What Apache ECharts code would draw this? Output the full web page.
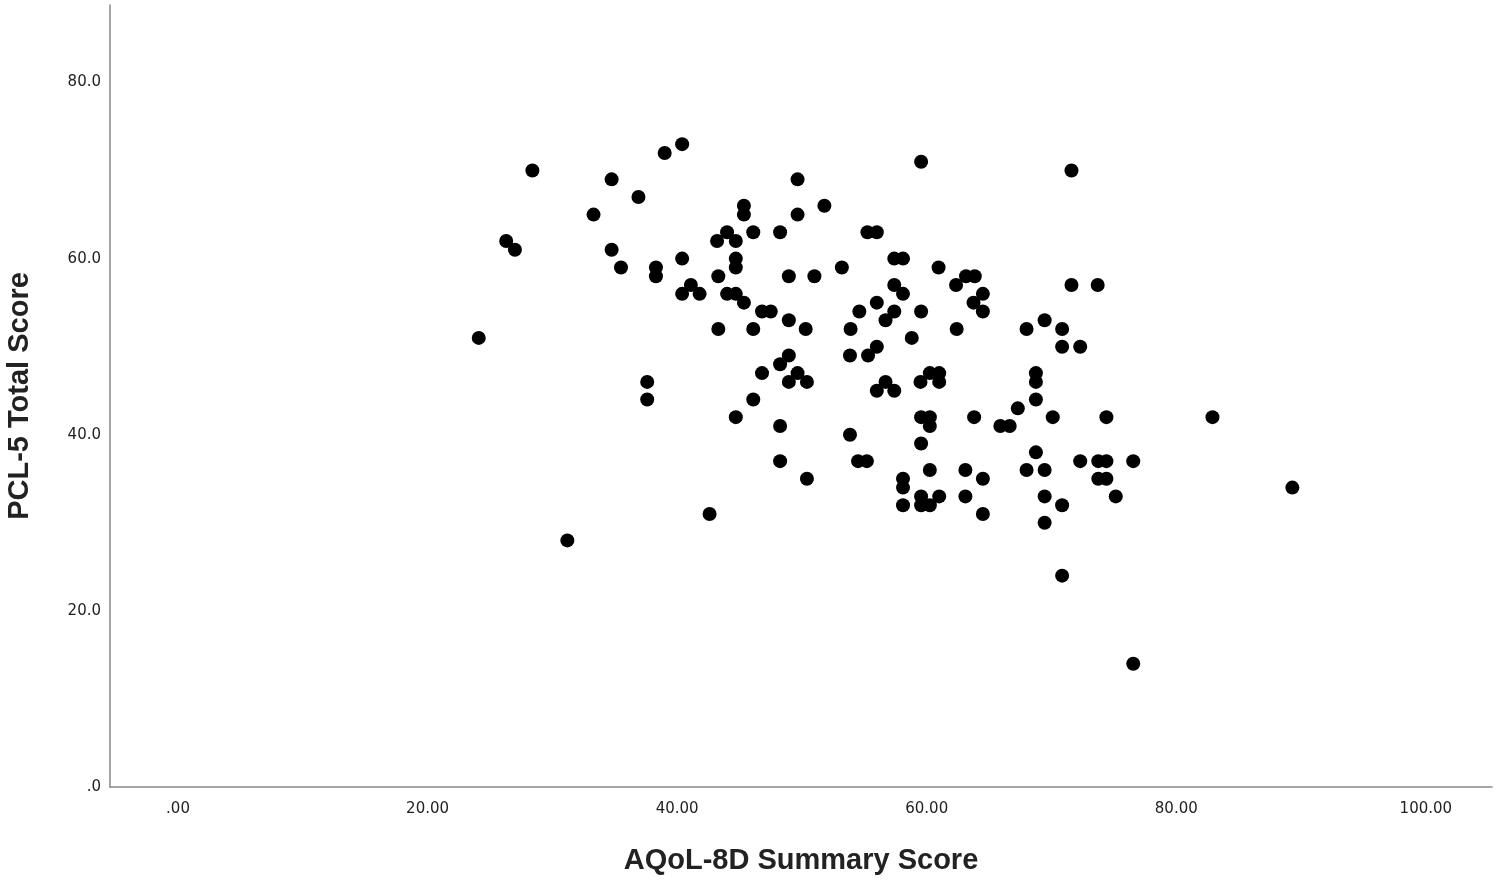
<!DOCTYPE html>
<html>
<head>
<meta charset="utf-8">
<script src="https://cdn.jsdelivr.net/npm/echarts@6/dist/echarts.min.js"></script>
<style>
html, body { margin: 0; padding: 0; background: #fff; }
#chart { width: 1499px; height: 881px; }
</style>
</head>
<body>
<div id="chart"></div>
<script>
// AQoL-8D summary score (x) and PCL-5 total score (y)
var aqol = [
	24.1, 26.3, 27.0, 28.4, 31.2, 33.3, 34.75, 34.75, 35.5, 36.9,
	37.6, 37.6, 38.3, 38.3, 39.0, 40.4, 40.4, 40.4, 41.1, 41.8,
	42.6, 43.2, 43.3, 43.3, 44.0, 44.0, 44.7, 44.7, 44.7, 44.7,
	44.7, 45.35, 45.35, 45.35, 46.1, 46.1, 46.1, 46.8, 46.8, 47.5,
	48.25, 48.25, 48.25, 48.25, 48.95, 48.95, 48.95, 48.95, 49.65, 49.65,
	49.65, 50.3, 50.4, 50.4, 51.0, 51.8, 53.2, 53.9, 53.85, 53.85,
	54.6, 54.5, 55.2, 55.3, 55.25, 56.0, 56.0, 56.0, 56.0, 56.7,
	56.7, 57.4, 57.4, 57.4, 57.4, 58.1, 58.1, 58.1, 58.1, 58.1,
	58.8, 59.55, 59.55, 59.5, 59.55, 59.55, 59.55, 59.55, 60.25, 60.25,
	60.25, 60.25, 60.25, 61.0, 61.0, 61.0, 60.95, 62.4, 62.35, 63.15,
	63.1, 63.1, 63.85, 63.75, 63.8, 64.5, 64.5, 64.5, 64.5, 65.9,
	66.65, 67.3, 68.0, 68.0, 68.75, 68.75, 68.75, 68.75, 69.45, 69.45,
	69.45, 69.45, 70.1, 70.85, 70.85, 70.85, 70.85, 71.6, 71.6, 72.3,
	72.3, 73.7, 73.75, 73.75, 74.4, 74.4, 74.4, 75.15, 76.55, 76.55,
	82.9, 89.3
];
var pcl = [
	51, 62, 61, 70, 28, 65, 69, 61, 59, 67,
	46, 44, 59, 58, 72, 73, 60, 56, 57, 56,
	31, 62, 58, 52, 63, 56, 62, 60, 59, 56,
	42, 66, 65, 55, 63, 52, 44, 47, 54, 54,
	63, 48, 41, 37, 58, 53, 49, 46, 69, 65,
	47, 52, 46, 35, 58, 66, 59, 52, 49, 40,
	54, 37, 37, 49, 63, 63, 55, 50, 45, 53,
	46, 54, 57, 45, 60, 60, 56, 35, 34, 32,
	51, 71, 54, 46, 42, 39, 33, 32, 47, 42,
	41, 36, 32, 47, 46, 33, 59, 52, 57, 58,
	36, 33, 58, 55, 42, 56, 54, 35, 31, 41,
	41, 43, 52, 36, 47, 46, 44, 38, 53, 36,
	33, 30, 42, 52, 50, 32, 24, 70, 57, 50,
	37, 57, 37, 35, 37, 35, 42, 33, 37, 14,
	42, 34
];
var xTicks = [0, 20, 40, 60, 80, 100];
var yTicks = [0, 20, 40, 60, 80];

var points = aqol.map(function(x, i){ return [x, pcl[i]]; });

var chart = echarts.init(document.getElementById('chart'), null, {renderer: 'canvas'});

var tickFont = {
	fontFamily: 'DejaVu Sans',
	fontSize: 15,
	color: '#222'
};
var titleFont = {
	fontFamily: '"Liberation Sans Narrow", "Liberation Sans", sans-serif',
	fontWeight: 'bold',
	fontSize: 29,
	color: '#222'
};

chart.setOption({
	animation: false,
	backgroundColor: '#fff',
	grid: {left: 110, right: 7, top: 5, bottom: 94, containLabel: false, outerBoundsMode: 'none'},
	xAxis: {
		type: 'value',
		min: -5.45,
		max: 105.3,
		name: 'AQoL-8D Summary Score',
		nameLocation: 'middle',
		nameGap: 59,
		nameTextStyle: titleFont,
		axisLine: {show: true, onZero: false, lineStyle: {color: '#888', width: 1.5}},
		axisTick: {show: false},
		splitLine: {show: false},
		axisLabel: Object.assign({
			customValues: xTicks,
			margin: 15,
			formatter: function(v){ return v === 0 ? '.00' : v.toFixed(2); }
		}, tickFont)
	},
	yAxis: {
		type: 'value',
		min: 0,
		max: 88.8,
		name: 'PCL-5 Total Score',
		nameLocation: 'middle',
		nameGap: 76,
		nameTextStyle: titleFont,
		axisLine: {show: true, onZero: false, lineStyle: {color: '#888', width: 1.5}},
		axisTick: {show: false},
		splitLine: {show: false},
		axisLabel: Object.assign({
			customValues: yTicks,
			margin: 9,
			formatter: function(v){ return v === 0 ? '.0' : v.toFixed(1); }
		}, tickFont)
	},
	series: [{
		type: 'scatter',
		data: points,
		symbol: 'circle',
		symbolSize: 14,
		itemStyle: {color: '#000', opacity: 1}
	}]
});
</script>
</body>
</html>
